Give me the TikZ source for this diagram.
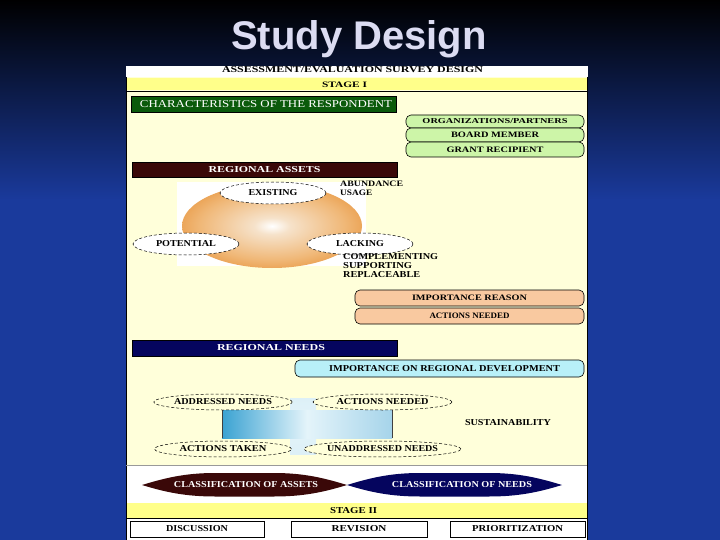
\documentclass[tikz,border=0pt]{standalone}
\usepackage{fontspec}
\setmainfont{Liberation Serif}
\newfontfamily\titlefont{Liberation Sans}
\usetikzlibrary{shapes.geometric}
\definecolor{bgblue}{HTML}{1A3A9C}
\definecolor{titlecol}{HTML}{DCDCF2}
\definecolor{cream}{HTML}{FFFFDA}
\definecolor{stagey}{HTML}{FFFF8A}
\definecolor{darkgreen}{HTML}{0B5A0B}
\definecolor{pillgreen}{HTML}{CDF5A8}
\definecolor{maroon}{HTML}{3A0808}
\definecolor{peach}{HTML}{F9C9A0}
\definecolor{navy}{HTML}{05055E}
\definecolor{cyanpill}{HTML}{B8F0F8}
\definecolor{sphA}{HTML}{F6E2CA}
\definecolor{sphB}{HTML}{F0B878}
\definecolor{sphC}{HTML}{E48624}
\definecolor{cylL}{HTML}{3AA2D2}
\definecolor{cylM}{HTML}{E4F4FA}
\definecolor{cylR}{HTML}{A6D4EA}
\definecolor{cylS}{HTML}{DDF0F7}
\pgfdeclareradialshading{spheresh}{\pgfpoint{0bp}{0bp}}{color(0bp)=(white); color(5bp)=(sphA); color(20bp)=(sphB); color(34bp)=(sphC); color(50bp)=(sphC)}
\newcommand\tw[3]{\resizebox{#1pt}{#2pt}{#3}}
\tikzset{
  lbl/.style={inner sep=0pt, font=\bfseries},
  wlbl/.style={inner sep=0pt, font=\bfseries, text=white},
  bar/.style={draw=black, line width=0.5pt, inner sep=0pt},
  pill/.style={draw=black, line width=0.6pt, rounded corners=5pt, inner sep=0pt, font=\bfseries},
  dell/.style={ellipse, draw=black, dash pattern=on 3pt off 2pt, line width=0.5pt, inner sep=0pt, font=\bfseries},
  wbox/.style={draw=black, line width=0.6pt, fill=white, inner sep=0pt, font=\bfseries}
}
\begin{document}
\begin{tikzpicture}[x=1pt,y=-1pt]
\useasboundingbox (0,0) rectangle (720,540);
% slide background
\shade[top color=black, bottom color=bgblue] (0,0) rectangle (720,200);
\fill[bgblue] (0,199.5) rectangle (720,540);
\node[anchor=base, inner sep=0pt, text=titlecol, font=\titlefont\bfseries\fontsize{40}{44}\selectfont] (title) at (359,50) {Study Design};
% panel
\fill[white] (126,66) rectangle (588,540);
\fill[cream] (126,77) rectangle (587,465);
\fill[stagey] (126,78) rectangle (587,90.5);
\fill[stagey] (126,503) rectangle (587,517.5);
\draw[line width=0.6pt] (126,77) -- (126,540);
\draw[line width=0.6pt] (587,77) -- (587,540);
\draw[line width=0.5pt] (126,91) -- (587,91);
\draw[line width=0.4pt, black!40] (126,465) -- (587,465);
\draw[line width=0.5pt] (126,518) -- (587,518);
\node[lbl] (survey) at (352.5,70) {\tw{261}{6}{ASSESSMENT/EVALUATION SURVEY DESIGN}};
\node[lbl] (stage1) at (344.5,85) {\tw{45}{5.5}{STAGE I}};
% characteristics
\node[bar, fill=darkgreen, minimum width=265pt, minimum height=16pt] (charac) at (263.5,104) {};
\node[inner sep=0pt, text=white] (charact) at (266,104) {\tw{252}{7}{CHARACTERISTICS OF THE RESPONDENT}};
\node[pill, fill=pillgreen, minimum width=178pt, minimum height=13pt] (org) at (495,121.5) {\tw{145}{5}{ORGANIZATIONS/PARTNERS}};
\node[pill, fill=pillgreen, minimum width=178pt, minimum height=14pt] (board) at (495,135) {\tw{88}{5.5}{BOARD MEMBER}};
\node[pill, fill=pillgreen, minimum width=178pt, minimum height=15pt] (grant) at (495,149.5) {\tw{97}{5.5}{GRANT RECIPIENT}};
% regional assets
\node[bar, fill=maroon, minimum width=265pt, minimum height=15pt, font=\bfseries] (assets) at (264.5,169.5) {\tw{112}{6}{\color{white}REGIONAL ASSETS}};
\fill[white] (177,182) rectangle (366,266);
\shade[shading=spheresh] (272,226) ellipse [x radius=90, y radius=42];
\node[dell, fill=white, minimum width=106pt, minimum height=22pt] (exist) at (273,193) {\tw{49}{6}{EXISTING}};
\node[dell, fill=white, minimum width=106pt, minimum height=22pt] (potent) at (186,244) {\tw{60}{6}{POTENTIAL}};
\node[dell, fill=white, minimum width=106pt, minimum height=22pt] (lack) at (360,244) {\tw{48}{6}{LACKING}};
\node[lbl, anchor=west] (abund) at (340,184) {\tw{63}{5.5}{ABUNDANCE}};
\node[lbl, anchor=west] (usage) at (340,193) {\tw{32}{5.5}{USAGE}};
\node[lbl, anchor=west] (compl) at (343,257) {\tw{95}{6}{COMPLEMENTING}};
\node[lbl, anchor=west] (suppo) at (343,266) {\tw{69}{6}{SUPPORTING}};
\node[lbl, anchor=west] (repla) at (343,275) {\tw{77}{6}{REPLACEABLE}};
\node[pill, fill=peach, minimum width=229pt, minimum height=16pt] (impreason) at (469.5,298) {\tw{115}{5.5}{IMPORTANCE REASON}};
\node[pill, fill=peach, minimum width=229pt, minimum height=16pt] (actneed1) at (469.5,316) {\tw{80}{5.5}{ACTIONS NEEDED}};
% regional needs
\node[bar, fill=navy, minimum width=265pt, minimum height=16pt] (needs) at (264.5,348) {};
\node[inner sep=0pt, font=\bfseries] (needst) at (271,348) {\tw{108}{6}{\color{white}REGIONAL NEEDS}};
\node[pill, fill=cyanpill, minimum width=289pt, minimum height=17pt] (impdev) at (439.5,368.5) {};
\node[lbl] (impdevt) at (444.5,368.5) {\tw{231}{6}{IMPORTANCE ON REGIONAL DEVELOPMENT}};
\shade[top color=cylS, bottom color=cylS, middle color=cylM] (290,398) rectangle (316,454);
\shade[left color=cylL, right color=cylR, middle color=cylM] (222,410) rectangle (392,438);
\draw[line width=0.6pt, black!75] (222,410) -- (222,438) (392,410) -- (392,438);
\node[dell, fill=cream, minimum width=137pt, minimum height=16pt] (addr) at (223,402) {\tw{98}{6}{ADDRESSED NEEDS}};
\node[dell, fill=cream, minimum width=139pt, minimum height=16pt] (actneed2) at (382.5,402) {\tw{92}{6}{ACTIONS NEEDED}};
\node[dell, fill=cream, minimum width=137pt, minimum height=16pt] (acttaken) at (223,449) {\tw{87}{6}{ACTIONS TAKEN}};
\node[dell, fill=cream, minimum width=139pt, minimum height=16pt] (unaddr) at (382.5,449) {\tw{111}{6}{UNADDRESSED NEEDS}};
\node[lbl] (sustain) at (508,423) {\tw{86}{6}{SUSTAINABILITY}};
% classification diamonds
\fill[maroon] (142,485) .. controls (165,478) and (185,473) .. (215,473) -- (274,473) .. controls (304,473) and (324,478) .. (347,485) .. controls (324,492) and (304,496.5) .. (274,496.5) -- (215,496.5) .. controls (185,496.5) and (165,492) .. cycle;
\fill[navy] (347,485) .. controls (370,478) and (390,473) .. (420,473) -- (489,473) .. controls (519,473) and (539,478) .. (562,485) .. controls (539,492) and (519,496.5) .. (489,496.5) -- (420,496.5) .. controls (390,496.5) and (370,492) .. cycle;
\node[wlbl] (classA) at (246,485) {\tw{144}{6}{CLASSIFICATION OF ASSETS}};
\node[wlbl] (classN) at (462,485) {\tw{140}{6}{CLASSIFICATION OF NEEDS}};
\node[lbl] (stage2) at (353.5,510.5) {\tw{47}{6}{STAGE II}};
% stage II boxes
\node[wbox, minimum width=134pt, minimum height=16pt] (disc) at (197,529) {\tw{62}{6}{DISCUSSION}};
\node[wbox, minimum width=136pt, minimum height=16pt] (revis) at (359,529) {\tw{55}{6}{REVISION}};
\node[wbox, minimum width=135pt, minimum height=16pt] (prior) at (517.5,529) {\tw{91}{6}{PRIORITIZATION}};
\end{tikzpicture}
\end{document}
